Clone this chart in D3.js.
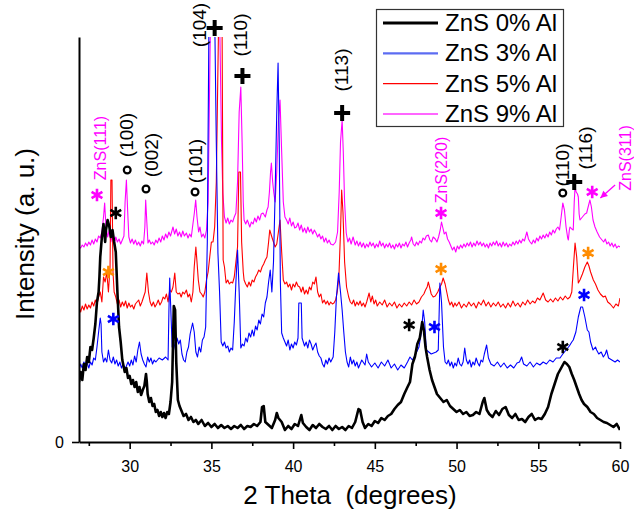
<!DOCTYPE html>
<html><head><meta charset="utf-8">
<script src="https://cdn.jsdelivr.net/npm/d3@7"></script>
<style>
body{margin:0;background:#fff;}
svg{display:block;font-family:"Liberation Sans",Arial,sans-serif;}
</style></head><body>
<svg id="c" width="634" height="512"></svg>
<script>
// ---- data: 2θ (degrees), intensity (a.u.) ----
const seriesNames = ["ZnS 0% Al","ZnS 3% Al","ZnS 5% Al","ZnS 9% Al"];
const seriesColors = ["#000000","#0000ff","#ff0000","#ff00ff"];
const xTicks = [30,35,40,45,50,55,60];
const xMinor = [27.5,32.5,37.5,42.5,47.5,52.5,57.5];
const yTicks = [0];

const al0 = [[26.9,60],[27.0,70],[27.1,62],[27.2,78],[27.3,72],[27.4,85],[27.5,80],[27.6,95],[27.7,92],[27.8,104],[27.9,118],[28.0,140],[28.1,150],[28.15,165],[28.2,185],[28.3,205],[28.4,218],[28.5,200],[28.55,212],[28.65,222],[28.75,216],[28.85,205],[28.95,212],[29.05,200],[29.15,190],[29.25,150],[29.35,115],[29.45,100],[29.55,82],[29.7,70],[29.8,74],[29.9,64],[30.0,66],[30.1,58],[30.2,62],[30.3,55],[30.4,60],[30.5,50],[30.6,55],[30.7,47],[30.8,52],[30.9,56],[31.0,68],[31.05,60],[31.1,48],[31.2,40],[31.3,44],[31.4,36],[31.5,38],[31.6,30],[31.7,32],[31.8,26],[31.9,30],[32.0,25],[32.1,29],[32.2,24],[32.3,30],[32.4,28],[32.5,40],[32.6,60],[32.7,136],[32.78,132],[32.85,80],[32.95,42],[33.05,36],[33.15,32],[33.3,26],[33.45,28],[33.6,22],[33.75,25],[33.9,20],[34.05,22],[34.2,18],[34.4,22],[34.6,16],[34.8,19],[35.0,15],[35.2,18],[35.4,14],[35.6,17],[35.8,14],[36.0,16],[36.2,13],[36.4,16],[36.6,14],[36.8,17],[37.0,13],[37.2,16],[37.4,15],[37.6,18],[37.8,16],[38.0,20],[38.1,35],[38.2,36],[38.3,20],[38.5,17],[38.7,14],[38.9,22],[39.0,29],[39.1,24],[39.3,20],[39.5,12],[39.7,16],[39.9,13],[40.1,18],[40.3,16],[40.5,27],[40.6,19],[40.8,15],[41.0,12],[41.2,17],[41.4,14],[41.6,18],[41.8,15],[42.0,13],[42.2,16],[42.4,12],[42.6,16],[42.8,13],[43.0,15],[43.2,12],[43.4,16],[43.6,14],[43.8,20],[44.0,33],[44.1,32],[44.25,20],[44.4,14],[44.6,18],[44.8,16],[45.0,21],[45.2,19],[45.4,24],[45.6,22],[45.8,26],[46.0,28],[46.2,33],[46.4,37],[46.6,40],[46.8,48],[47.0,55],[47.15,60],[47.3,78],[47.45,85],[47.6,98],[47.75,104],[47.9,120],[48.0,112],[48.1,95],[48.2,85],[48.35,72],[48.5,62],[48.65,55],[48.8,48],[49.0,44],[49.2,40],[49.4,42],[49.6,36],[49.8,33],[50.0,30],[50.2,32],[50.4,28],[50.6,30],[50.8,26],[51.0,27],[51.2,30],[51.4,28],[51.6,40],[51.7,44],[51.85,32],[52.0,28],[52.2,25],[52.4,31],[52.6,27],[52.8,33],[53.0,35],[53.2,27],[53.4,24],[53.6,28],[53.8,22],[54.0,23],[54.2,20],[54.4,25],[54.6,28],[54.8,22],[55.0,24],[55.2,23],[55.4,28],[55.6,35],[55.8,48],[56.0,58],[56.2,68],[56.4,74],[56.6,80],[56.75,78],[56.9,75],[57.05,68],[57.2,62],[57.35,55],[57.5,48],[57.65,42],[57.8,38],[58.0,35],[58.2,30],[58.4,28],[58.6,24],[58.8,22],[59.0,20],[59.2,19],[59.4,17],[59.6,15],[59.8,18],[60.0,12]];

const al3 = [[26.9,72],[27.0,78],[27.1,74],[27.2,80],[27.3,76],[27.4,79],[27.5,74],[27.6,80],[27.7,77],[27.8,84],[27.9,82],[28.0,95],[28.1,110],[28.2,124],[28.25,118],[28.3,90],[28.4,80],[28.5,84],[28.6,80],[28.7,92],[28.8,82],[28.9,79],[29.0,85],[29.1,78],[29.2,82],[29.3,76],[29.4,80],[29.5,74],[29.6,78],[29.7,73],[29.8,76],[29.9,80],[30.0,76],[30.1,82],[30.2,77],[30.3,86],[30.4,80],[30.5,92],[30.6,100],[30.7,88],[30.8,82],[30.9,78],[31.0,75],[31.1,85],[31.2,80],[31.3,84],[31.4,78],[31.5,82],[31.6,80],[31.8,84],[32.0,82],[32.2,85],[32.35,82],[32.4,130],[32.45,164],[32.5,140],[32.6,95],[32.7,100],[32.8,92],[32.9,104],[33.0,98],[33.1,102],[33.2,88],[33.3,82],[33.4,80],[33.5,90],[33.6,95],[33.7,108],[33.85,119],[33.95,110],[34.05,90],[34.15,85],[34.25,95],[34.35,90],[34.45,102],[34.55,105],[34.65,115],[34.75,200],[34.85,420],[35.0,430],[35.2,430],[35.3,300],[35.4,189],[35.5,150],[35.6,100],[35.7,96],[35.8,100],[35.9,94],[36.0,96],[36.1,90],[36.2,94],[36.3,92],[36.4,120],[36.5,160],[36.6,192],[36.7,150],[36.8,94],[36.9,98],[37.0,96],[37.1,104],[37.2,100],[37.3,109],[37.4,105],[37.5,112],[37.6,106],[37.7,116],[37.8,112],[37.9,122],[38.0,118],[38.1,128],[38.2,125],[38.3,139],[38.4,145],[38.5,160],[38.6,172],[38.7,150],[38.8,180],[38.9,249],[39.0,330],[39.08,379],[39.15,300],[39.22,160],[39.3,109],[39.4,104],[39.5,100],[39.6,96],[39.7,102],[39.8,92],[39.9,98],[40.0,94],[40.1,100],[40.2,97],[40.3,104],[40.35,139],[40.5,139],[40.55,104],[40.7,96],[40.8,100],[40.9,94],[41.0,102],[41.1,98],[41.2,92],[41.3,96],[41.4,99],[41.5,90],[41.6,86],[41.7,84],[41.8,78],[41.9,75],[42.0,82],[42.1,78],[42.2,84],[42.3,80],[42.45,85],[42.55,110],[42.65,145],[42.78,169],[42.9,150],[43.0,132],[43.1,110],[43.2,90],[43.3,80],[43.4,75],[43.5,85],[43.6,78],[43.7,82],[43.8,76],[43.9,80],[44.0,74],[44.2,82],[44.4,77],[44.5,88],[44.6,80],[44.8,75],[45.0,79],[45.2,74],[45.4,80],[45.6,76],[45.8,82],[46.0,74],[46.2,78],[46.4,72],[46.6,77],[46.8,74],[47.0,80],[47.15,85],[47.3,82],[47.5,88],[47.7,95],[47.85,110],[47.96,132],[48.05,120],[48.15,92],[48.3,90],[48.45,88],[48.6,89],[48.75,90],[48.88,92],[48.98,159],[49.08,140],[49.2,95],[49.3,80],[49.4,78],[49.5,82],[49.6,76],[49.7,80],[49.8,74],[49.9,79],[50.0,76],[50.1,84],[50.2,78],[50.3,76],[50.4,80],[50.5,94],[50.6,82],[50.7,78],[50.8,82],[50.9,75],[51.0,80],[51.1,77],[51.2,84],[51.3,79],[51.4,76],[51.5,82],[51.6,80],[51.7,88],[51.84,97],[51.95,84],[52.1,78],[52.3,76],[52.5,80],[52.7,75],[52.9,79],[53.1,74],[53.3,77],[53.5,74],[53.7,79],[53.85,80],[53.98,85],[54.1,78],[54.3,76],[54.5,80],[54.7,75],[54.9,79],[55.1,77],[55.3,80],[55.5,78],[55.7,82],[55.9,80],[56.1,84],[56.33,84],[56.5,88],[56.7,92],[56.9,96],[57.05,100],[57.14,102],[57.3,110],[57.45,125],[57.6,135],[57.71,135],[57.85,125],[58.0,112],[58.1,110],[58.2,100],[58.35,92],[58.5,95],[58.57,92],[58.7,88],[58.85,90],[58.98,85],[59.1,88],[59.18,92],[59.3,84],[59.5,82],[59.7,80],[59.85,82],[60.0,80]];

const al5 = [[26.9,135],[27.0,130],[27.1,136],[27.2,132],[27.3,138],[27.4,133],[27.5,137],[27.6,134],[27.7,140],[27.8,136],[27.9,142],[28.0,138],[28.1,145],[28.2,150],[28.3,140],[28.4,165],[28.5,160],[28.6,170],[28.7,150],[28.8,175],[28.85,262],[28.92,262],[28.98,170],[29.05,150],[29.15,145],[29.25,138],[29.35,142],[29.45,135],[29.55,140],[29.65,136],[29.75,141],[29.85,134],[29.95,139],[30.05,135],[30.15,137],[30.25,133],[30.35,138],[30.45,140],[30.55,142],[30.65,136],[30.75,140],[30.85,145],[30.95,150],[31.05,169],[31.15,150],[31.25,140],[31.35,136],[31.45,140],[31.55,135],[31.65,138],[31.75,142],[31.85,137],[31.95,140],[32.05,145],[32.15,143],[32.25,148],[32.35,140],[32.45,152],[32.55,150],[32.65,155],[32.76,169],[32.85,150],[32.95,148],[33.06,149],[33.15,145],[33.25,150],[33.35,148],[33.47,152],[33.57,145],[33.67,148],[33.77,140],[33.87,150],[33.95,175],[34.05,195],[34.12,180],[34.2,162],[34.3,150],[34.4,148],[34.5,145],[34.6,150],[34.7,162],[34.8,170],[34.9,185],[35.0,200],[35.1,200],[35.2,215],[35.3,260],[35.45,430],[35.65,430],[35.72,182],[35.8,175],[35.9,159],[36.0,162],[36.1,158],[36.2,160],[36.3,159],[36.4,165],[36.5,180],[36.6,195],[36.68,270],[36.78,270],[36.85,200],[36.95,170],[37.0,162],[37.1,158],[37.2,155],[37.3,160],[37.4,156],[37.5,162],[37.6,160],[37.7,165],[37.8,168],[37.9,172],[38.0,170],[38.1,175],[38.2,178],[38.3,182],[38.4,185],[38.5,200],[38.57,212],[38.7,205],[38.8,200],[38.9,195],[39.0,198],[39.1,210],[39.2,222],[39.3,190],[39.4,162],[39.5,158],[39.6,160],[39.7,155],[39.8,158],[39.9,152],[40.0,158],[40.1,155],[40.2,160],[40.3,156],[40.4,155],[40.5,150],[40.6,155],[40.7,148],[40.8,152],[40.9,148],[41.0,155],[41.1,152],[41.2,160],[41.3,158],[41.4,165],[41.5,150],[41.6,145],[41.7,148],[41.8,139],[41.9,142],[42.0,138],[42.1,141],[42.2,137],[42.3,140],[42.4,138],[42.5,139],[42.6,142],[42.7,150],[42.8,165],[42.9,210],[42.97,252],[43.05,230],[43.15,180],[43.27,155],[43.4,145],[43.5,140],[43.6,138],[43.7,142],[43.8,136],[43.9,140],[44.0,137],[44.1,141],[44.2,136],[44.3,139],[44.4,135],[44.5,140],[44.65,149],[44.75,140],[44.85,146],[44.95,138],[45.05,142],[45.15,136],[45.3,140],[45.45,137],[45.6,142],[45.75,135],[45.9,139],[46.05,136],[46.2,140],[46.35,134],[46.5,138],[46.65,135],[46.8,139],[46.95,136],[47.1,140],[47.25,137],[47.4,142],[47.55,138],[47.7,140],[47.85,145],[48.0,148],[48.1,152],[48.2,155],[48.27,160],[48.35,155],[48.45,148],[48.57,145],[48.7,146],[48.85,150],[48.98,155],[49.08,158],[49.18,164],[49.3,158],[49.4,150],[49.5,142],[49.6,137],[49.7,140],[49.8,135],[49.9,139],[50.0,136],[50.15,140],[50.3,134],[50.45,138],[50.6,135],[50.75,140],[50.9,136],[51.05,139],[51.2,134],[51.35,140],[51.5,137],[51.65,142],[51.8,136],[51.95,140],[52.1,135],[52.25,139],[52.4,136],[52.55,140],[52.7,135],[52.85,138],[53.0,134],[53.15,139],[53.3,135],[53.45,141],[53.6,136],[53.75,139],[53.9,135],[54.05,140],[54.2,137],[54.35,142],[54.5,138],[54.65,141],[54.8,139],[54.95,144],[55.1,142],[55.3,149],[55.45,142],[55.6,140],[55.75,143],[55.9,140],[56.05,144],[56.2,141],[56.35,145],[56.5,142],[56.65,146],[56.8,143],[56.94,145],[57.05,150],[57.15,175],[57.25,199],[57.35,185],[57.45,159],[57.55,162],[57.7,168],[57.85,175],[58.0,180],[58.1,176],[58.2,170],[58.37,162],[58.5,158],[58.65,152],[58.8,148],[58.98,145],[59.1,146],[59.25,140],[59.4,138],[59.6,134],[59.75,138],[59.9,136],[60.0,144]];

const al9 = [[26.9,195],[27.0,194],[27.1,197],[27.2,195],[27.3,199],[27.4,196],[27.5,200],[27.6,197],[27.7,202],[27.8,198],[27.9,203],[28.0,200],[28.1,206],[28.2,204],[28.3,210],[28.4,225],[28.47,239],[28.55,215],[28.65,205],[28.75,212],[28.85,200],[28.95,208],[29.05,198],[29.15,205],[29.25,200],[29.35,203],[29.45,198],[29.55,202],[29.65,206],[29.72,240],[29.8,262],[29.88,230],[29.95,205],[30.05,199],[30.15,203],[30.25,198],[30.35,202],[30.45,197],[30.55,200],[30.65,196],[30.75,201],[30.85,198],[30.93,215],[30.98,242],[31.05,220],[31.12,199],[31.2,202],[31.3,198],[31.4,200],[31.5,197],[31.6,202],[31.7,199],[31.8,204],[31.9,200],[32.0,206],[32.1,202],[32.2,208],[32.3,204],[32.4,210],[32.5,206],[32.6,212],[32.65,215],[32.75,208],[32.85,213],[32.95,206],[33.05,210],[33.15,205],[33.25,211],[33.35,206],[33.47,209],[33.57,204],[33.67,208],[33.77,205],[33.87,218],[33.95,228],[34.04,242],[34.12,225],[34.22,210],[34.3,215],[34.4,205],[34.5,208],[34.6,204],[34.7,212],[34.8,240],[34.95,430],[35.2,430],[35.5,430],[35.62,300],[35.7,249],[35.8,225],[35.9,219],[36.0,224],[36.1,218],[36.2,222],[36.3,220],[36.4,225],[36.5,229],[36.6,260],[36.7,330],[36.8,355],[36.88,300],[36.95,240],[37.0,222],[37.1,218],[37.2,222],[37.35,215],[37.45,220],[37.55,218],[37.65,224],[37.75,220],[37.85,226],[37.95,222],[38.05,228],[38.16,229],[38.3,225],[38.4,232],[38.47,235],[38.55,250],[38.62,270],[38.67,279],[38.75,260],[38.82,249],[38.9,240],[39.0,270],[39.1,320],[39.2,342],[39.3,290],[39.4,240],[39.5,225],[39.6,222],[39.7,218],[39.8,224],[39.9,216],[40.0,220],[40.1,214],[40.2,215],[40.3,219],[40.4,212],[40.5,217],[40.6,210],[40.7,214],[40.8,209],[40.9,215],[41.0,210],[41.1,213],[41.2,208],[41.3,212],[41.4,209],[41.5,205],[41.6,208],[41.7,203],[41.8,206],[41.9,200],[42.0,204],[42.1,199],[42.2,202],[42.3,198],[42.45,197],[42.6,200],[42.72,210],[42.82,250],[42.9,300],[43.0,322],[43.07,290],[43.15,240],[43.25,209],[43.35,200],[43.45,204],[43.55,198],[43.67,205],[43.8,197],[43.9,201],[44.0,196],[44.1,200],[44.2,195],[44.3,199],[44.4,194],[44.5,198],[44.6,195],[44.7,200],[44.8,196],[44.9,199],[45.0,194],[45.1,198],[45.2,195],[45.3,201],[45.4,196],[45.5,199],[45.6,194],[45.7,198],[45.8,195],[45.9,199],[46.0,194],[46.1,197],[46.2,193],[46.3,198],[46.4,195],[46.5,199],[46.6,194],[46.7,198],[46.8,196],[46.9,200],[47.0,195],[47.1,199],[47.2,202],[47.25,205],[47.35,198],[47.45,196],[47.55,200],[47.65,197],[47.75,201],[47.85,199],[47.95,204],[48.05,202],[48.15,206],[48.27,207],[48.37,202],[48.47,200],[48.57,205],[48.7,203],[48.8,200],[48.9,205],[49.0,212],[49.08,220],[49.15,215],[49.25,208],[49.35,210],[49.45,203],[49.55,200],[49.65,196],[49.75,192],[49.85,195],[49.95,190],[50.05,196],[50.15,193],[50.25,197],[50.35,194],[50.45,198],[50.55,195],[50.65,199],[50.75,196],[50.85,200],[50.95,195],[51.05,199],[51.15,196],[51.25,201],[51.35,197],[51.45,200],[51.55,196],[51.65,199],[51.75,195],[51.85,198],[51.95,194],[52.05,199],[52.15,196],[52.25,200],[52.35,197],[52.45,201],[52.55,196],[52.65,199],[52.75,195],[52.85,200],[52.95,196],[53.05,199],[53.15,195],[53.25,198],[53.35,196],[53.45,200],[53.55,197],[53.65,201],[53.75,198],[53.85,202],[53.95,199],[54.05,203],[54.15,201],[54.3,210],[54.4,203],[54.5,200],[54.6,198],[54.7,202],[54.8,199],[54.9,204],[55.0,201],[55.1,206],[55.2,203],[55.3,207],[55.4,204],[55.5,208],[55.6,205],[55.7,210],[55.8,207],[55.9,212],[56.0,209],[56.1,213],[56.2,215],[56.3,212],[56.4,225],[56.5,239],[56.6,232],[56.7,215],[56.8,204],[56.84,202],[56.9,212],[56.94,215],[57.05,213],[57.14,212],[57.2,240],[57.25,255],[57.32,250],[57.4,248],[57.45,245],[57.5,228],[57.55,222],[57.65,224],[57.75,226],[57.85,228],[57.96,229],[58.05,235],[58.16,242],[58.25,235],[58.35,222],[58.47,215],[58.6,210],[58.75,205],[58.9,202],[59.0,200],[59.1,203],[59.2,198],[59.3,200],[59.4,196],[59.5,199],[59.6,195],[59.7,198],[59.8,194],[59.9,196],[60.0,195]];

// peak annotations: label, 2θ, intensity level of label centre
const hklLabels = [["(100)",29.8,307],["(002)",31.3,287],["(101)",34.0,281],["(104)",34.25,417],["(110)",36.8,407],["(113)",42.95,372],["(110)",56.45,277],["(116)",57.85,294]];
const hklPlus = [[35.2,414],[36.9,366],[43.0,329],[57.2,260]];
const hklRing = [[29.85,272],[31.0,253],[34.0,250],[56.5,249]];
const znsLabels = [["ZnS(111)",28.2,294],["ZnS(220)",49.05,272],["ZnS(311)",60.35,284]];
const starMarks = [[28.0,247,"#ff00ff"],[29.15,229,"#000000"],[28.7,170,"#ff8c00"],[29.0,123,"#0000ff"],
  [49.05,229,"#ff00ff"],[49.05,173,"#ff8c00"],[47.1,117,"#000000"],[48.65,115,"#0000ff"],
  [58.3,250,"#ff00ff"],[58.05,189,"#ff8c00"],[57.8,147,"#0000ff"],[56.5,95,"#000000"]];

// ---- drawing ----
const svg = d3.select("#c");
const x = d3.scaleLinear().domain([26.9, 60]).range([79, 620]);
const y = d3.scaleLinear().domain([0, 405]).range([442, 37]);

svg.append("defs").append("clipPath").attr("id","clip")
  .append("rect").attr("x",79).attr("y",37).attr("width",541).attr("height",405);

const line = d3.line().x(d=>x(d[0])).y(d=>y(d[1]));
const data = [al0, al3, al5, al9];
const widths = [2.6, 1.1, 1.1, 1.1];
const g = svg.append("g").attr("clip-path","url(#clip)");
[3,2,1,0].forEach(i=>{
  g.append("path").attr("d", line(data[i])).attr("fill","none")
    .attr("stroke", seriesColors[i]).attr("stroke-width", widths[i])
    .attr("stroke-linejoin","round");
});

// axes
svg.append("g").attr("transform","translate(0,442)")
  .call(d3.axisBottom(x).tickValues(xTicks).tickSize(7).tickSizeOuter(0).tickPadding(12).tickFormat(d3.format("d")));
svg.append("g").attr("transform","translate(0,442)")
  .call(d3.axisBottom(x).tickValues(xMinor).tickSize(4).tickSizeOuter(0).tickFormat(""))
  .select(".domain").remove();
svg.append("g").attr("transform","translate(79,0)")
  .call(d3.axisLeft(y).tickValues(yTicks).tickSize(7).tickSizeOuter(0).tickPadding(8));
svg.selectAll(".domain").attr("stroke","#000").attr("stroke-width",2);
svg.selectAll(".tick line").attr("stroke","#000").attr("stroke-width",1.6);
svg.selectAll(".tick text").attr("font-size",16).attr("font-family","Liberation Sans, Arial, sans-serif").attr("fill","#000");

// axis titles
svg.append("text").attr("x",350).attr("y",504).attr("text-anchor","middle")
  .attr("font-size",26).style("white-space","pre").text("2 Theta  (degrees)");
svg.append("text").attr("transform","translate(34,234) rotate(-90)").attr("text-anchor","middle")
  .attr("font-size",26).text("Intensity (a. u.)");

// annotations
const ann = svg.append("g");
hklLabels.forEach(([t,a,b])=>{
  ann.append("text").attr("transform",`translate(${x(a)},${y(b)}) rotate(-90)`)
    .attr("text-anchor","middle").attr("dy","0.35em").attr("font-size",19).text(t);
});
znsLabels.forEach(([t,a,b])=>{
  ann.append("text").attr("transform",`translate(${x(a)},${y(b)}) rotate(-90)`)
    .attr("text-anchor","middle").attr("dy","0.35em").attr("font-size",16).attr("fill","#ff00ff").text(t);
});
hklPlus.forEach(([a,b])=>{
  const cx=x(a), cy=y(b);
  ann.append("path").attr("d",`M${cx-8},${cy}H${cx+8}M${cx},${cy-8}V${cy+8}`)
    .attr("stroke","#000").attr("stroke-width",4);
});
hklRing.forEach(([a,b])=>{
  ann.append("circle").attr("cx",x(a)).attr("cy",y(b)).attr("r",3.4)
    .attr("fill","#fff").attr("stroke","#000").attr("stroke-width",2.2);
});
const star = d3.symbol().type(d3.symbolAsterisk).size(110);
starMarks.forEach(([a,b,c])=>{
  ann.append("path").attr("d",star()).attr("transform",`translate(${x(a)},${y(b)})`)
    .attr("fill","none").attr("stroke",c).attr("stroke-width",2.6);
});
// arrow to ZnS(311)
const ax1=x(59.7), ay1=y(257), ax2=x(58.8), ay2=y(244);
ann.append("line").attr("x1",ax1).attr("y1",ay1).attr("x2",ax2).attr("y2",ay2)
  .attr("stroke","#ff00ff").attr("stroke-width",1.3);
const ang=Math.atan2(ay2-ay1, ax2-ax1);
const hl=7, hw=3.5;
ann.append("path").attr("d",`M${ax2},${ay2}L${ax2-hl*Math.cos(ang)+hw*Math.sin(ang)},${ay2-hl*Math.sin(ang)-hw*Math.cos(ang)}L${ax2-hl*Math.cos(ang)-hw*Math.sin(ang)},${ay2-hl*Math.sin(ang)+hw*Math.cos(ang)}Z`)
  .attr("fill","#ff00ff");

// legend
const lg = svg.append("g");
lg.append("rect").attr("x",376.5).attr("y",9.5).attr("width",187).attr("height",117)
  .attr("fill","#fff").attr("stroke","#333").attr("stroke-width",1.2);
const legW = [3, 2.2, 1.3, 1.5];
const legC = ["#000000","#5c6cf2","#ff0000","#ff33ff"];
seriesNames.forEach((n,i)=>{
  const cy = 23 + i*30.3;
  lg.append("line").attr("x1",383).attr("x2",438).attr("y1",cy).attr("y2",cy)
    .attr("stroke",legC[i]).attr("stroke-width",legW[i]);
  lg.append("text").attr("x",445).attr("y",cy+8).attr("font-size",24).text(n);
});
</script>
</body></html>
